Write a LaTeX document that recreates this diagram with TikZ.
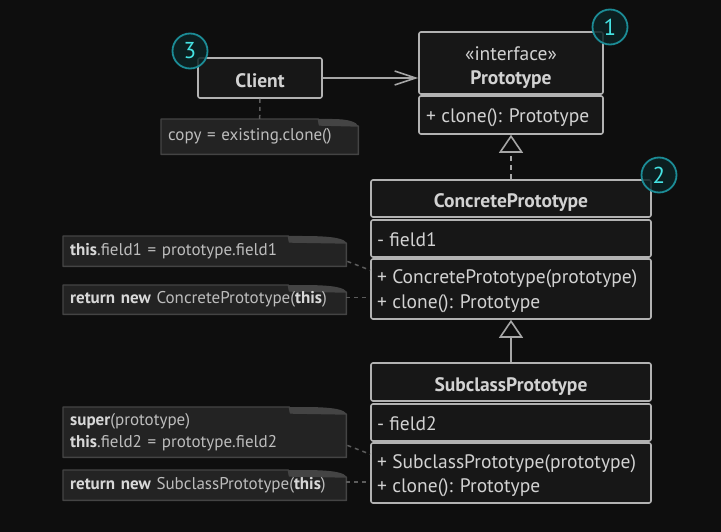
\documentclass[tikz,border=0pt]{standalone}
\usepackage{fontspec}
\setmainfont{PT Sans}
\usetikzlibrary{calc,backgrounds,arrows.meta}

\definecolor{bgcol}{HTML}{0E0E0E}
\definecolor{boxfill}{HTML}{171717}
\definecolor{boxline}{HTML}{B2B2B2}
\definecolor{txtcol}{HTML}{D2D2D2}
\definecolor{notefill}{HTML}{232323}
\definecolor{noteline}{HTML}{444444}
\definecolor{notetxt}{HTML}{BDBDBD}
\definecolor{notebold}{HTML}{D8D8D8}
\definecolor{linkcol}{HTML}{A6A6A6}
\definecolor{dotcol}{HTML}{5C5C5C}
\definecolor{badgeline}{HTML}{1C8C96}
\definecolor{badgetxt}{HTML}{45E3E3}
\definecolor{badgefill}{HTML}{0C2224}

% folded-corner outline behind a note node: #1 node, #2 fold width (pt)
\newcommand{\notefold}[2]{%
  \draw[noteline, line width=1.4pt, fill=notefill, line join=round]
    (#1.north west) -- ([xshift=-#2pt]#1.north east)
    -- ([xshift=-#2pt+1pt, yshift=-6pt]#1.north east)
    -- ([yshift=-7pt]#1.north east) -- (#1.south east) -- (#1.south west) -- cycle;
  \fill[noteline]
    ([xshift=-#2pt]#1.north east) -- ([xshift=-#2pt+14pt]#1.north east)
    .. controls ([xshift=-10pt]#1.north east) and ([xshift=-2pt, yshift=-3pt]#1.north east)
    .. ([yshift=-7pt]#1.north east)
    -- ([xshift=-#2pt+1pt, yshift=-6pt]#1.north east) -- cycle;
}
\newcommand{\kw}[1]{\textbf{\color{notebold}#1}}

\begin{document}
\begin{tikzpicture}[x=1pt, y=-1pt,
  comp/.style={draw=boxline, fill=boxfill, line width=1.6pt, rounded corners=2pt,
    inner sep=0pt, minimum width=#1},
  title/.style={text=txtcol, font=\fontsize{19.5}{22}\selectfont\bfseries},
  stereo/.style={text=txtcol, font=\fontsize{19.5}{22}\selectfont},
  member/.style={text=txtcol, font=\fontsize{19.5}{22}\selectfont, anchor=west,
    inner sep=0pt, text height=14pt, text depth=5pt},
  notebox/.style={minimum width=283pt, text width=269pt, inner xsep=7pt, inner ysep=0pt,
    align=left, anchor=north west, text=notetxt,
    font=\fontsize{17}{22}\selectfont},
  link/.style={draw=linkcol, line width=1.6pt},
  dotlink/.style={draw=dotcol, line width=1.5pt, dash pattern=on 4pt off 4pt},
  hollow/.style={-{Triangle[length=18pt, width=24pt, fill=bgcol, line width=1.6pt]}},
  badge/.style={circle, minimum size=35pt, inner sep=0pt, draw=badgeline, line width=1.8pt,
    fill=badgefill, fill opacity=0.85, text opacity=1, text=badgetxt,
    font=\fontsize{23}{23}\selectfont}
]
\begin{scope}[on background layer]
  \fill[bgcol] (0,0) rectangle (721,532);
\end{scope}
\useasboundingbox (0,0) rectangle (721,532);

% Client
\node[comp=124pt, minimum height=40pt] (client) at (260,78) {};
\node[title] (clientname) at (260,80.5) {Client};

% Prototype interface
\node[comp=184pt, minimum height=62pt] (protohead) at (511,63) {};
\node[stereo] (protostereo) at (511,53.5) {«interface»};
\node[title] (protoname) at (511,79.5) {Prototype};
\node[comp=184pt, minimum height=38pt] (protobody) at (511,115) {};
\node[member] (protoclone) at (426,118) {+ clone(): Prototype};

% ConcretePrototype
\node[comp=280pt, minimum height=37pt] (cphead) at (511,198.5) {};
\node[title] (cpname) at (511,202.5) {ConcretePrototype};
\node[comp=280pt, minimum height=37pt] (cpfield) at (511,238.5) {};
\node[member] (cpf1) at (377,242) {- field1};
\node[comp=280pt, minimum height=60pt] (cpmeth) at (511,289) {};
\node[member] (cpctor) at (377,279) {+ ConcretePrototype(prototype)};
\node[member] (cpclone) at (377,304) {+ clone(): Prototype};

% SubclassPrototype
\node[comp=280pt, minimum height=38pt] (sphead) at (511,382) {};
\node[title] (spname) at (511,386.5) {SubclassPrototype};
\node[comp=280pt, minimum height=37pt] (spfield) at (511,422.5) {};
\node[member] (spf2) at (377,426) {- field2};
\node[comp=280pt, minimum height=60pt] (spmeth) at (511,473) {};
\node[member] (spctor) at (377,464) {+ SubclassPrototype(prototype)};
\node[member] (spclone) at (377,488) {+ clone(): Prototype};

% notes
\node[notebox, minimum width=197pt, text width=183pt, minimum height=35pt]
  (n0) at (161,119) {copy = existing.clone()};
\node[notebox, minimum height=30pt] (n1) at (63,236)
  {\kw{this}.field1 = prototype.field1};
\node[notebox, minimum height=29pt] (n2) at (63,285)
  {\kw{return} \kw{new} ConcretePrototype(\kw{this})};
\node[notebox, minimum height=50pt] (n3) at (63,407)
  {\kw{super}(prototype)\\\kw{this}.field2 = prototype.field2};
\node[notebox, minimum height=30pt] (n4) at (63,470)
  {\kw{return} \kw{new} SubclassPrototype(\kw{this})};

\begin{scope}[on background layer]
  \notefold{n0}{40}
  \notefold{n1}{58}
  \notefold{n2}{58}
  \notefold{n3}{57}
  \notefold{n4}{58}
\end{scope}

% connectors
\draw[link, -{Straight Barb[length=21pt, width=14pt, line width=1.6pt]}]
  (client.east) -- (client.east -| protohead.west);
\draw[link, dash pattern=on 5pt off 4pt, hollow] (cphead.north) -- (protobody.south);
\draw[link, hollow] (sphead.north) -- (cpmeth.south);

\coordinate (n1out) at ($(n1.south east)+(1,-5)$);
\coordinate (cpin) at ($(cpmeth.north west)+(0,12)$);
\coordinate (n3out) at ($(n3.south east)+(1,-12)$);
\coordinate (spin) at ($(spmeth.north west)+(0,12)$);
\draw[dotlink] (client.south) -- (n0.north);
\draw[dotlink] (n1out) -- (cpin);
\draw[dotlink] ([yshift=2pt]n2.east) -- ([yshift=2pt]n2.east -| cpmeth.west);
\draw[dotlink] (n3out) -- (spin);
\draw[dotlink] ([yshift=3pt]n4.east) -- ([yshift=3pt]n4.east -| spmeth.west);

% step badges
\node[badge] (b1) at (610,27) {1};
\node[badge] (b2) at (659,175) {2};
\node[badge] (b3) at (190,51) {3};
\end{tikzpicture}
\end{document}
